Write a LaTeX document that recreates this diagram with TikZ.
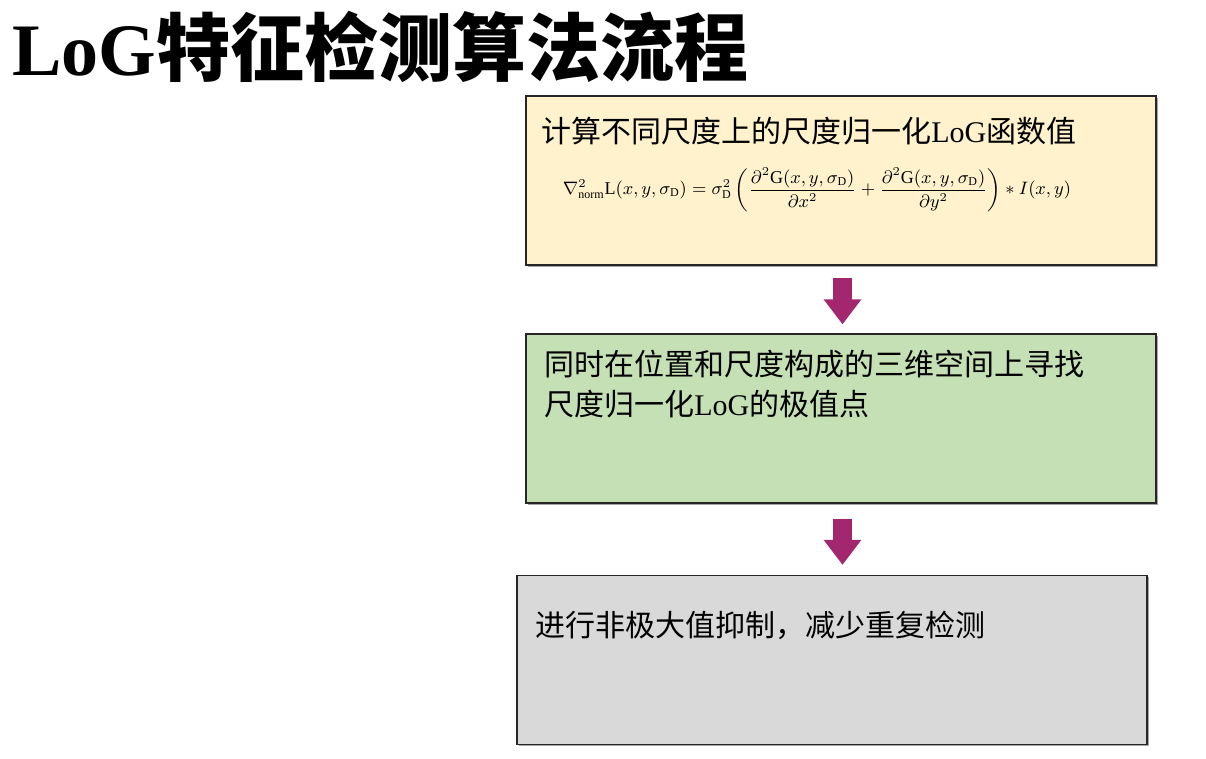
\documentclass[tikz,border=0pt]{standalone}
\usepackage{amsmath}
\usepackage{fontspec}
\setmainfont{Liberation Serif}
\newfontfamily\cjk{Noto Sans CJK SC}
\usepackage{tikz}
\usetikzlibrary{arrows.meta,calc,positioning,shadows}
\definecolor{StepYellow}{HTML}{FFF2CC}
\definecolor{StepGreen}{HTML}{C5E0B4}
\definecolor{StepGray}{HTML}{D9D9D9}
\definecolor{ArrowMagenta}{HTML}{A3276E}
\tikzset{
  stepbox/.style={draw=black!85, line width=0.6pt, minimum width=315pt, minimum height=84.5pt, inner sep=0pt,
    drop shadow={shadow xshift=1pt, shadow yshift=-1pt, fill=black, opacity=0.35}},
  steptext/.style={anchor=west, align=left, inner sep=0pt, font=\fontsize{15pt}{20pt}\selectfont},
  blockarrow/.style={-{Triangle[length=12.5pt,width=18pt]}, line width=9.5pt, draw=ArrowMagenta}
}

\begin{document}
\begin{tikzpicture}[x=0.5pt, y=0.5pt]
  \useasboundingbox (0,0) rectangle (1206,759);
  % title
  \node[anchor=west, inner sep=0pt, font=\fontsize{37pt}{40pt}\selectfont\bfseries] (title) at (12,712) {LoG{\cjk 特征检测算法流程}};
  % the three steps
  \node[stepbox, fill=StepYellow] (box1) at (841,578.5) {};
  \node[stepbox, fill=StepGreen] (box2) at (841,340.5) {};
  \node[stepbox, fill=StepGray] (box3) at (832,99) {};
  \node[steptext] (text1) at (541,628) {{\cjk 计算不同尺度上的尺度归一化}LoG{\cjk 函数值}};
  \node[inner sep=0pt, font=\small] (formula) at (817,569)
    {$\nabla^2_{\mathrm{norm}}\mathrm{L}(x,y,\sigma_{\mathrm{D}})=\sigma^2_{\mathrm{D}}\left(\dfrac{\partial^2\mathrm{G}(x,y,\sigma_{\mathrm{D}})}{\partial x^2}+\dfrac{\partial^2\mathrm{G}(x,y,\sigma_{\mathrm{D}})}{\partial y^2}\right)*I(x,y)$};
  \node[steptext, anchor=north west] (text2) at (544,409) {{\cjk 同时在位置和尺度构成的三维空间上寻找}\\{\cjk 尺度归一化}LoG{\cjk 的极值点}};
  \node[steptext] (text3) at (535,134) {{\cjk 进行非极大值抑制，减少重复检测}};
  % arrows between steps
  \draw[blockarrow, shorten <=12pt/2, shorten >=9pt/2] ($(box1.south)+(1.5,0)$) -- ($(box2.north)+(1.5,0)$);
  \draw[blockarrow, shorten <=15pt/2, shorten >=10pt/2] ($(box2.south)+(1.5,0)$) -- ($(box2.south |- box3.north)+(1.5,0)$);
\end{tikzpicture}
\end{document}
